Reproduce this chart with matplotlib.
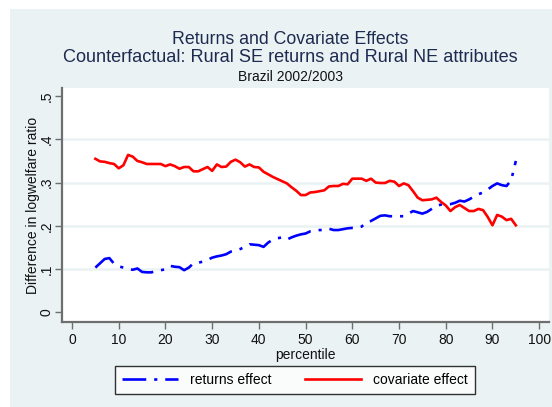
import matplotlib
matplotlib.use("Agg")
import matplotlib.pyplot as plt
from matplotlib.patches import Rectangle

plt.rcParams['font.family'] = ['Liberation Sans', 'DejaVu Sans']

percentile = list(range(5, 96))

returns_effect = [
    0.103, 0.113, 0.123, 0.125, 0.112, 0.106, 0.103, 0.100, 0.098, 0.101,
    0.093, 0.092, 0.092, 0.095, 0.097, 0.099, 0.107, 0.105, 0.104, 0.097,
    0.103, 0.113, 0.114, 0.117, 0.121, 0.126, 0.129, 0.131, 0.134, 0.140,
    0.142, 0.146, 0.151, 0.157, 0.156, 0.155, 0.151, 0.161, 0.168, 0.171,
    0.173, 0.168, 0.173, 0.177, 0.180, 0.182, 0.187, 0.189, 0.190, 0.190,
    0.193, 0.190, 0.190, 0.192, 0.194, 0.195, 0.195, 0.198, 0.208, 0.211,
    0.217, 0.223, 0.224, 0.222, 0.222, 0.222, 0.222, 0.228, 0.234, 0.231,
    0.228, 0.232, 0.239, 0.246, 0.249, 0.249, 0.250, 0.253, 0.258, 0.256,
    0.261, 0.267, 0.273, 0.277, 0.284, 0.292, 0.298, 0.294, 0.292, 0.305,
    0.350,
]

covariate_effect = [
    0.355, 0.349, 0.348, 0.345, 0.343, 0.333, 0.340, 0.364, 0.360, 0.350,
    0.347, 0.343, 0.343, 0.343, 0.343, 0.338, 0.342, 0.338, 0.332, 0.336,
    0.336, 0.326, 0.326, 0.331, 0.336, 0.327, 0.342, 0.336, 0.337, 0.348,
    0.353, 0.347, 0.337, 0.342, 0.336, 0.335, 0.325, 0.319, 0.313, 0.308,
    0.303, 0.298, 0.289, 0.281, 0.271, 0.271, 0.277, 0.278, 0.280, 0.282,
    0.291, 0.292, 0.292, 0.297, 0.296, 0.309, 0.309, 0.309, 0.304, 0.309,
    0.300, 0.299, 0.299, 0.304, 0.302, 0.292, 0.298, 0.294, 0.280, 0.265,
    0.259, 0.260, 0.261, 0.265, 0.255, 0.247, 0.234, 0.243, 0.248, 0.241,
    0.234, 0.234, 0.239, 0.236, 0.220, 0.201, 0.225, 0.221, 0.213, 0.216,
    0.201,
]

x_ticks = [0, 10, 20, 30, 40, 50, 60, 70, 80, 90, 100]
y_ticks = [0, 0.1, 0.2, 0.3, 0.4, 0.5]
y_tick_labels = ['0', '.1', '.2', '.3', '.4', '.5']

BG = '#EAF2F3'
NAVY = '#1E2B50'
AXC = '#6E6E6E'

fig = plt.figure(figsize=(5.52, 4.07), dpi=100, facecolor='white')
fig.patches.append(Rectangle((10 / 552, 0), 1 - 10 / 552, 1 - 9 / 407,
                             transform=fig.transFigure, facecolor=BG,
                             edgecolor='none', zorder=-10))

ax = fig.add_axes([62 / 552, 1 - 322 / 407, (549 - 62) / 552, (322 - 88) / 407])
ax.set_facecolor('white')

ax.plot(percentile, returns_effect, color='#0000FF', lw=1.9,
        dashes=(9, 3, 1.2, 3), label='returns effect', zorder=3)
ax.plot(percentile, covariate_effect, color='#FF0000', lw=1.9,
        label='covariate effect', zorder=3)

ax.set_xlim(-2.14, 102.1)
ax.set_ylim(-0.023, 0.519)

for yv in y_ticks[1:-1]:
    ax.axhline(yv, color=BG, lw=1.8, zorder=1)

ax.set_xticks(x_ticks)
ax.set_yticks(y_ticks)
ax.set_yticklabels(y_tick_labels, rotation=90, va='center')
ax.tick_params(axis='both', direction='out', length=5, width=1, color=AXC,
               labelsize=10, labelcolor='#111111')
ax.tick_params(axis='y', pad=1)
ax.tick_params(axis='x', pad=3)

for s in ['top', 'right']:
    ax.spines[s].set_visible(False)
for s in ['left', 'bottom']:
    ax.spines[s].set_color(AXC)
    ax.spines[s].set_linewidth(1.6)

ax.set_xlabel('percentile', fontsize=10, color='#111111', labelpad=1)
ax.set_ylabel('Difference in logwelfare ratio', fontsize=10, color='#111111', labelpad=0)

fig.text(0.526, 1 - 40 / 407, 'Returns and Covariate Effects', ha='center', va='center',
         fontsize=12.8, color=NAVY)
fig.text(0.526, 1 - 57 / 407, 'Counterfactual: Rural SE returns and Rural NE attributes',
         ha='center', va='center', fontsize=13.1, color=NAVY)
fig.text(0.526, 1 - 77 / 407, 'Brazil 2002/2003', ha='center', va='center',
         fontsize=10, color='#111111')

leg = fig.legend(loc='center', bbox_to_anchor=(295 / 552, 1 - 380 / 407), ncol=2,
                 frameon=True, fancybox=False, edgecolor='black', fontsize=10,
                 handlelength=4.0, columnspacing=2.4, borderpad=0.5,
                 handletextpad=0.9, borderaxespad=0)
leg.get_frame().set_linewidth(1.0)
leg.get_frame().set_facecolor('white')

fig.savefig('out.png', dpi=100, facecolor=fig.get_facecolor())
